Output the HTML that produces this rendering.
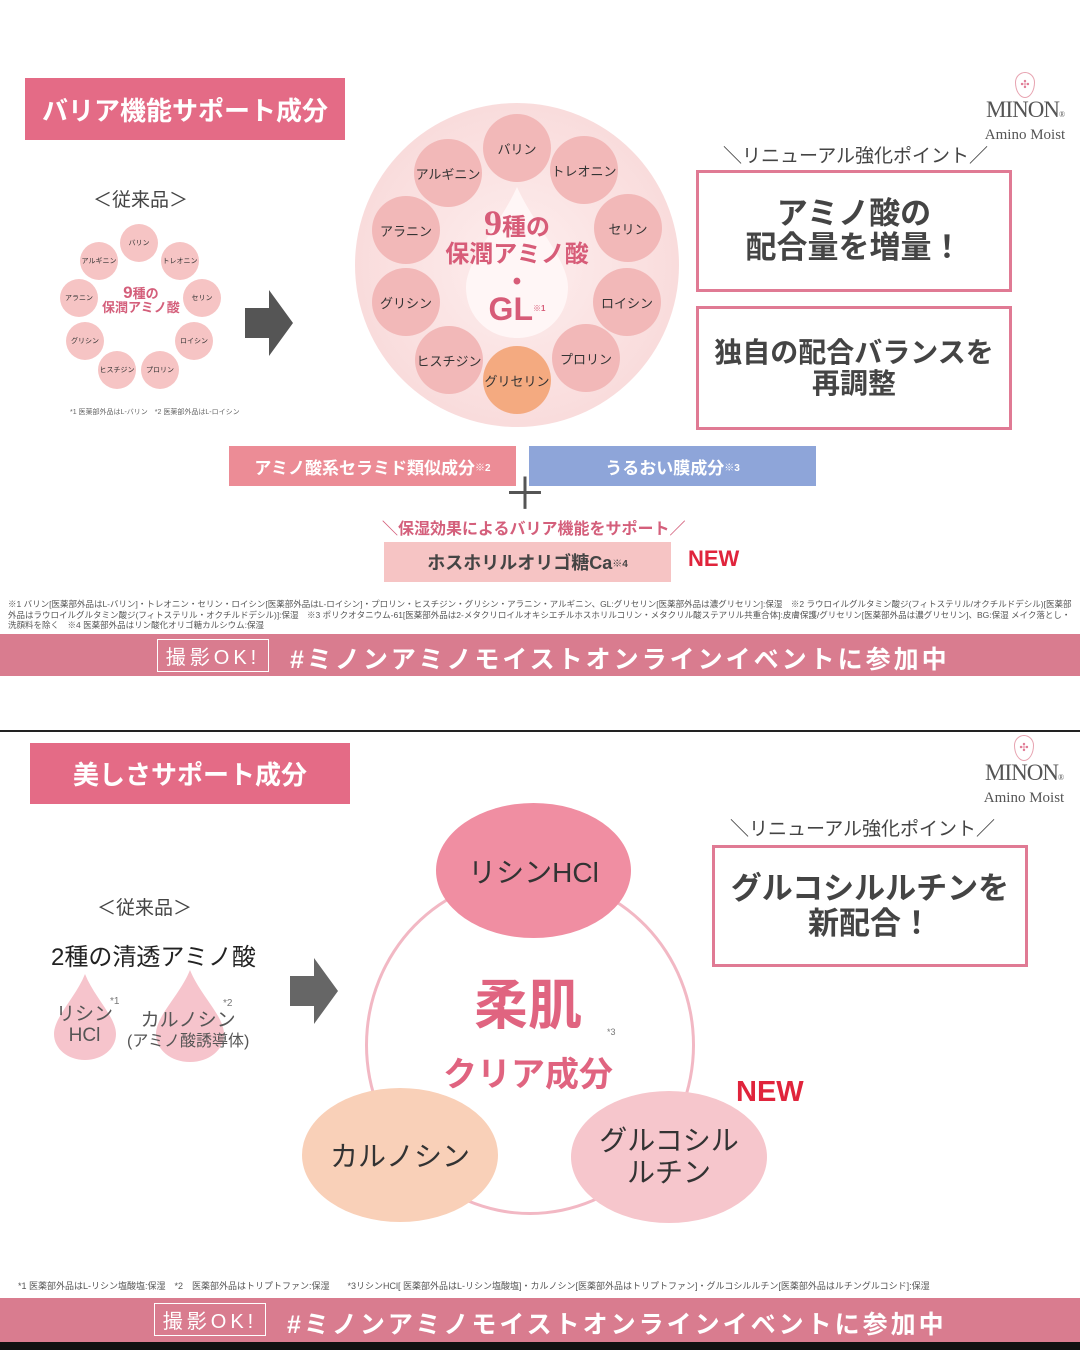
<!DOCTYPE html>
<html><head><meta charset="utf-8">
<style>
*{margin:0;padding:0;box-sizing:border-box}
body{width:1080px;height:1350px;background:#fff;position:relative;overflow:hidden;font-family:"Liberation Sans","Noto Sans CJK JP",sans-serif;color:#333}
.a{position:absolute}
.c{position:absolute;border-radius:50%;display:flex;align-items:center;justify-content:center;text-align:center}
.t{position:absolute;white-space:nowrap}
.box{position:absolute;border:3px solid #e07a94;display:flex;align-items:center;justify-content:center;text-align:center;color:#444;font-weight:bold}
.band{position:absolute;left:0;width:1080px;background:#d97c8f;color:#fff;font-weight:bold}
.ok{position:absolute;border:1.5px solid #fff;color:#fff;font-size:20px;letter-spacing:4px;display:flex;align-items:center;justify-content:center}
.logo{position:absolute;text-align:center;color:#555}
</style></head><body>

<!-- TOP SLIDE -->
<div class="a" style="left:25px;top:78px;width:320px;height:62px;background:#e46b86;color:#fff;font-size:26px;font-weight:bold;display:flex;align-items:center;justify-content:center">バリア機能サポート成分</div>

<div class="logo" style="left:975px;top:72px;width:100px">
<div style="margin:0 auto;width:20px;height:26px;border:1.5px solid #e7a3b0;border-radius:50% 50% 50% 50%/40% 40% 60% 60%;color:#e07a94;font-size:11px;line-height:24px">✣</div>
<div style="font-size:23px;line-height:24px;font-family:'Liberation Serif',serif;letter-spacing:-1px">MINON<span style="font-size:8px">®</span></div>
<div style="font-size:15px;line-height:16px;font-family:'Liberation Serif',serif">Amino Moist</div>
</div>

<div class="t" style="left:93px;top:185px;font-size:19px;color:#444">＜従来品＞</div>
<div class="c" style="left:67px;top:230px;width:146px;height:146px;background:#fff"></div>
<div class="t" style="left:102px;top:286px;font-size:13px;color:#d45f7b;line-height:14px;text-align:center;font-weight:bold"><span style="font-size:17px">9</span>種の<br>保潤アミノ酸</div>
<div class="c" style="left:120px;top:224px;width:38px;height:38px;background:#f6c4c4;font-size:7px">バリン</div>
<div class="c" style="left:161px;top:242px;width:38px;height:38px;background:#f6c4c4;font-size:7px">トレオニン</div>
<div class="c" style="left:183px;top:279px;width:38px;height:38px;background:#f6c4c4;font-size:7px">セリン</div>
<div class="c" style="left:175px;top:322px;width:38px;height:38px;background:#f6c4c4;font-size:7px">ロイシン</div>
<div class="c" style="left:141px;top:351px;width:38px;height:38px;background:#f6c4c4;font-size:7px">プロリン</div>
<div class="c" style="left:98px;top:351px;width:38px;height:38px;background:#f6c4c4;font-size:7px">ヒスチジン</div>
<div class="c" style="left:66px;top:322px;width:38px;height:38px;background:#f6c4c4;font-size:7px">グリシン</div>
<div class="c" style="left:60px;top:279px;width:38px;height:38px;background:#f6c4c4;font-size:7px">アラニン</div>
<div class="c" style="left:80px;top:242px;width:38px;height:38px;background:#f6c4c4;font-size:7px">アルギニン</div>
<div class="t" style="left:70px;top:407px;font-size:7px;color:#666">*1 医薬部外品はL-バリン　*2 医薬部外品はL-ロイシン</div>

<svg class="a" style="left:245px;top:290px" width="50" height="70"><polygon points="0,18 24,18 24,0 48,33 24,66 24,48 0,48" fill="#555"/></svg>

<div class="c" style="left:355px;top:103px;width:324px;height:324px;background:radial-gradient(circle,#fdeeee 0%,#f9dcdc 70%,#f3c8c8 100%)"></div>
<svg class="a" style="left:464px;top:185px" width="106" height="155"><path d="M53,2 C70,40 104,75 104,102 C104,132 81,153 53,153 C25,153 2,132 2,102 C2,75 36,40 53,2Z" fill="#fff6f6"/></svg>
<div class="t" style="left:517px;top:210px;transform:translateX(-50%);text-align:center;color:#d75c78;font-size:24px;line-height:27px;font-weight:bold"><span style="font-size:36px;font-family:'Liberation Serif',serif">9</span>種の<br>保潤アミノ酸<br>•<br><span style="font-size:32px">GL</span><sup style="font-size:8px">※1</sup></div>
<div class="c" style="left:483px;top:114px;width:68px;height:68px;background:#f2b8b8;font-size:13px">バリン</div>
<div class="c" style="left:550px;top:136px;width:68px;height:68px;background:#f2b8b8;font-size:13px">トレオニン</div>
<div class="c" style="left:594px;top:194px;width:68px;height:68px;background:#f2b8b8;font-size:13px">セリン</div>
<div class="c" style="left:593px;top:268px;width:68px;height:68px;background:#f2b8b8;font-size:13px">ロイシン</div>
<div class="c" style="left:552px;top:324px;width:68px;height:68px;background:#f2b8b8;font-size:13px">プロリン</div>
<div class="c" style="left:483px;top:346px;width:68px;height:68px;background:#f4aa80;font-size:13px">グリセリン</div>
<div class="c" style="left:415px;top:326px;width:68px;height:68px;background:#f2b8b8;font-size:13px">ヒスチジン</div>
<div class="c" style="left:372px;top:268px;width:68px;height:68px;background:#f2b8b8;font-size:13px">グリシン</div>
<div class="c" style="left:372px;top:196px;width:68px;height:68px;background:#f2b8b8;font-size:13px">アラニン</div>
<div class="c" style="left:414px;top:139px;width:68px;height:68px;background:#f2b8b8;font-size:13px">アルギニン</div>

<div class="t" style="left:723px;top:141px;font-size:19px;color:#444">＼リニューアル強化ポイント／</div>
<div class="box" style="left:696px;top:170px;width:316px;height:122px;font-size:31px;line-height:34px">アミノ酸の<br>配合量を増量！</div>
<div class="box" style="left:696px;top:306px;width:316px;height:124px;font-size:28px;line-height:31px">独自の配合バランスを<br>再調整</div>

<div class="a" style="left:229px;top:446px;width:287px;height:40px;background:#ec8c96;color:#fff;font-size:17px;font-weight:bold;display:flex;align-items:center;justify-content:center">アミノ酸系セラミド類似成分<sup style="font-size:10px">※2</sup></div>
<div class="a" style="left:529px;top:446px;width:287px;height:40px;background:#8ea5d9;color:#fff;font-size:17px;font-weight:bold;display:flex;align-items:center;justify-content:center">うるおい膜成分<sup style="font-size:10px">※3</sup></div>
<div class="t" style="left:503px;top:470px;font-size:44px;color:#555;line-height:50px">＋</div>
<div class="t" style="left:382px;top:515px;font-size:16px;color:#d45f7b;font-weight:bold">＼保湿効果によるバリア機能をサポート／</div>
<div class="a" style="left:384px;top:542px;width:287px;height:40px;background:#f6c4c4;color:#444;font-size:18px;font-weight:bold;display:flex;align-items:center;justify-content:center">ホスホリルオリゴ糖Ca<sup style="font-size:10px">※4</sup></div>
<div class="t" style="left:688px;top:546px;font-size:22px;color:#e0243c;font-weight:bold">NEW</div>

<div class="a" style="left:8px;top:599px;width:1068px;font-size:8.5px;line-height:10.5px;color:#555">※1 バリン[医薬部外品はL-バリン]・トレオニン・セリン・ロイシン[医薬部外品はL-ロイシン]・プロリン・ヒスチジン・グリシン・アラニン・アルギニン、GL:グリセリン[医薬部外品は濃グリセリン]:保湿　※2 ラウロイルグルタミン酸ジ(フィトステリル/オクチルドデシル)[医薬部外品はラウロイルグルタミン酸ジ(フィトステリル・オクチルドデシル)]:保湿　※3 ポリクオタニウム-61[医薬部外品は2-メタクリロイルオキシエチルホスホリルコリン・メタクリル酸ステアリル共重合体]:皮膚保護/グリセリン[医薬部外品は濃グリセリン]、BG:保湿 メイク落とし・洗顔料を除く　※4 医薬部外品はリン酸化オリゴ糖カルシウム:保湿</div>

<div class="band" style="top:634px;height:42px"></div>
<div class="ok" style="left:157px;top:639px;width:112px;height:33px">撮影OK!</div>
<div class="t" style="left:290px;top:640px;font-size:25px;color:#fff;font-weight:bold;letter-spacing:3px">#ミノンアミノモイストオンラインイベントに参加中</div>

<div class="a" style="left:0;top:730px;width:1080px;height:1.5px;background:#222"></div>

<!-- BOTTOM SLIDE -->
<div class="a" style="left:30px;top:743px;width:320px;height:61px;background:#e46b86;color:#fff;font-size:26px;font-weight:bold;display:flex;align-items:center;justify-content:center">美しさサポート成分</div>
<div class="logo" style="left:974px;top:735px;width:100px">
<div style="margin:0 auto;width:20px;height:26px;border:1.5px solid #e7a3b0;border-radius:50% 50% 50% 50%/40% 40% 60% 60%;color:#e07a94;font-size:11px;line-height:24px">✣</div>
<div style="font-size:23px;line-height:24px;font-family:'Liberation Serif',serif;letter-spacing:-1px">MINON<span style="font-size:8px">®</span></div>
<div style="font-size:15px;line-height:16px;font-family:'Liberation Serif',serif">Amino Moist</div>
</div>

<div class="t" style="left:97px;top:893px;font-size:19px;color:#444">＜従来品＞</div>
<div class="t" style="left:51px;top:937px;font-size:24px;color:#222">2種の清透アミノ酸</div>
<svg class="a" style="left:52px;top:972px" width="66" height="90"><path d="M33,2 C42,25 64,45 64,62 C64,77 50,88 33,88 C16,88 2,77 2,62 C2,45 24,25 33,2Z" fill="#f6c4cc"/></svg>
<svg class="a" style="left:154px;top:968px" width="72" height="96"><path d="M36,2 C46,27 70,48 70,66 C70,82 55,94 36,94 C17,94 2,82 2,66 C2,48 26,27 36,2Z" fill="#f6c4cc"/></svg>
<div class="t" style="left:56px;top:1004px;font-size:19px;line-height:21px;color:#555;text-align:center">リシン<br>HCl</div>
<div class="t" style="left:110px;top:996px;font-size:10px;color:#777">*1</div>
<div class="t" style="left:223px;top:998px;font-size:10px;color:#777">*2</div>
<div class="t" style="left:127px;top:1011px;font-size:19px;line-height:20px;color:#555;text-align:center">カルノシン<br><span style="font-size:16px">(アミノ酸誘導体)</span></div>
<svg class="a" style="left:290px;top:958px" width="50" height="70"><polygon points="0,18 24,18 24,0 48,33 24,66 24,48 0,48" fill="#666"/></svg>

<div class="c" style="left:365px;top:875px;width:330px;height:340px;border:3px solid #f2b8c4"></div>
<div class="t" style="left:528px;top:975px;transform:translateX(-50%);text-align:center;color:#e06480;font-size:54px;line-height:62px;font-weight:bold">柔肌<br><span style="font-size:34px;line-height:40px">クリア成分</span></div>
<div class="t" style="left:607px;top:1027px;font-size:9px;color:#777">*3</div>
<div class="c" style="left:436px;top:803px;width:195px;height:135px;background:#f08ea2;font-size:28px;color:#333">リシンHCl</div>
<div class="c" style="left:302px;top:1088px;width:196px;height:134px;background:#f9d0b8;font-size:28px;color:#333">カルノシン</div>
<div class="c" style="left:571px;top:1091px;width:196px;height:132px;background:#f6c6cc;font-size:28px;line-height:32px;color:#333">グルコシル<br>ルチン</div>
<div class="t" style="left:736px;top:1076px;font-size:29px;color:#e0243c;font-weight:bold">NEW</div>

<div class="t" style="left:730px;top:814px;font-size:19px;color:#444">＼リニューアル強化ポイント／</div>
<div class="box" style="left:712px;top:845px;width:316px;height:122px;font-size:31px;line-height:35px">グルコシルルチンを<br>新配合！</div>

<div class="t" style="left:18px;top:1279px;font-size:9px;color:#555">*1 医薬部外品はL-リシン塩酸塩:保湿　*2　医薬部外品はトリプトファン:保湿　　*3リシンHCl[ 医薬部外品はL-リシン塩酸塩]・カルノシン[医薬部外品はトリプトファン]・グルコシルルチン[医薬部外品はルチングルコシド]:保湿</div>

<div class="band" style="top:1298px;height:44px"></div>
<div class="ok" style="left:154px;top:1303px;width:112px;height:33px">撮影OK!</div>
<div class="t" style="left:287px;top:1305px;font-size:25px;color:#fff;font-weight:bold;letter-spacing:3px">#ミノンアミノモイストオンラインイベントに参加中</div>
<div class="a" style="left:0;top:1342px;width:1080px;height:8px;background:#111"></div>
</body></html>
